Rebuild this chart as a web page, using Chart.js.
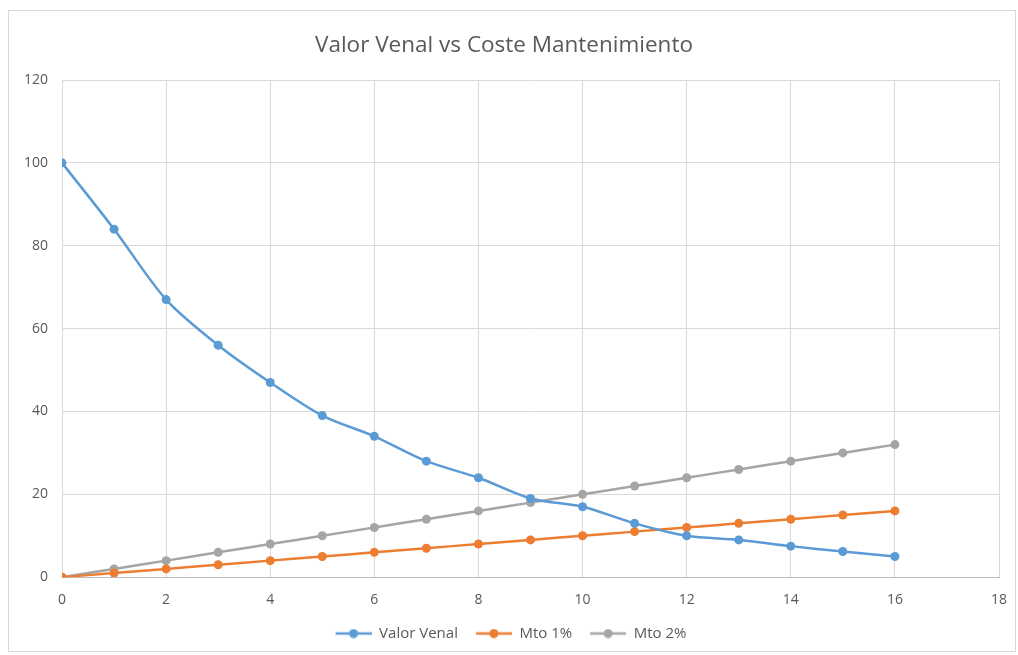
<!DOCTYPE html>
<html>
<head>
<meta charset="utf-8">
<script src="https://cdn.jsdelivr.net/npm/chart.js@4/dist/chart.umd.min.js"></script>
<style>
  body { margin: 0; background: #fff; }
  #box {
    position: absolute; left: 8px; top: 10px;
    width: 1006px; height: 640px;
    border: 1px solid #d9d9d9; background: #fff;
  }
</style>
</head>
<body>
<div id="box"><canvas id="chart" width="1006" height="640"></canvas></div>
<script>
// years
const years = [0, 1, 2, 3, 4, 5, 6, 7, 8, 9, 10, 11, 12, 13, 14, 15, 16];
const valorVenal = [100, 84, 67, 56, 47, 39, 34, 28, 24, 19, 17, 13, 10, 9, 7.5, 6.2, 5];
const mto1 = [0, 1, 2, 3, 4, 5, 6, 7, 8, 9, 10, 11, 12, 13, 14, 15, 16];
const mto2 = [0, 2, 4, 6, 8, 10, 12, 14, 16, 18, 20, 22, 24, 26, 28, 30, 32];

const COLORS = { blue: '#5B9BD5', orange: '#ED7D31', gray: '#A5A5A5' };
const FONT = "'Open Sans', 'Liberation Sans', sans-serif";
const ICON_GAP = 14; // empty space before each legend marker
const ICON_W = 36;

// legend marker: short line with a dot in the middle
function legendIcon(color) {
  const c = document.createElement('canvas');
  c.width = ICON_GAP + ICON_W; c.height = 10;
  const ctx = c.getContext('2d');
  ctx.strokeStyle = color;
  ctx.lineWidth = 2.5;
  ctx.beginPath(); ctx.moveTo(ICON_GAP, 5); ctx.lineTo(ICON_GAP + ICON_W, 5); ctx.stroke();
  ctx.fillStyle = color;
  ctx.beginPath(); ctx.arc(ICON_GAP + ICON_W / 2, 5, 4.5, 0, Math.PI * 2); ctx.fill();
  return c;
}

function series(label, values, color) {
  return {
    label,
    data: years.map((x, i) => ({ x, y: values[i] })),
    borderColor: color,
    backgroundColor: color,
    borderWidth: 2.5,
    pointRadius: 4.5,
    pointHoverRadius: 4.5,
    pointBorderWidth: 0,
    tension: 0.3,
    pointStyle: 'circle',
    legendIcon: legendIcon(color)
  };
}

new Chart(document.getElementById('chart'), {
  type: 'line',
  data: {
    datasets: [
      series('Valor Venal', valorVenal, COLORS.blue),
      series('Mto 1%', mto1, COLORS.orange),
      series('Mto 2%', mto2, COLORS.gray)
    ]
  },
  options: {
    responsive: false,
    animation: false,
    layout: { padding: { left: 0, right: 16, top: 0, bottom: 0 } },
    plugins: {
      title: {
        display: true,
        text: 'Valor Venal vs Coste Mantenimiento',
        color: '#595959',
        font: { family: FONT, size: 22.5, weight: 'normal' },
        padding: { top: 21, bottom: 21 }
      },
      legend: {
        position: 'bottom',
        labels: {
          color: '#595959',
          font: { family: FONT, size: 15 },
          usePointStyle: true,
          pointStyleWidth: ICON_GAP + ICON_W,
          padding: 4,
          generateLabels(chart) {
            return chart.data.datasets.map((ds, i) => ({
              text: ds.label,
              pointStyle: ds.legendIcon,
              fillStyle: ds.borderColor,
              strokeStyle: ds.borderColor,
              lineWidth: 0,
              hidden: false,
              datasetIndex: i,
              fontColor: '#595959'
            }));
          }
        }
      },
      tooltip: { enabled: false }
    },
    scales: {
      x: {
        type: 'linear',
        min: 0, max: 18,
        ticks: { stepSize: 2, color: '#595959', font: { family: FONT, size: 14 }, padding: 14 },
        grid: { color: '#d9d9d9', drawTicks: false },
        border: { color: '#bfbfbf', width: 1 },
        // keep the tick padding from eating into the plot width
        afterFit(scale) { scale.paddingLeft = 0; scale.paddingRight = 0; }
      },
      y: {
        min: 0, max: 120,
        ticks: { stepSize: 20, color: '#595959', font: { family: FONT, size: 14 }, padding: 14 },
        grid: { color: '#d9d9d9', drawTicks: false },
        border: { display: false },
        afterFit(scale) { scale.width = 53; }
      }
    }
  }
});
</script>
</body>
</html>
